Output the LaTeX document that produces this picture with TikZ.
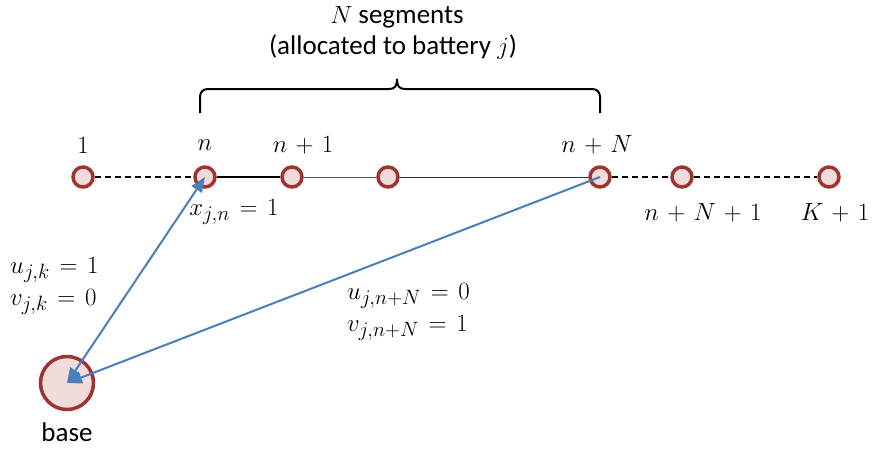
\documentclass[tikz,border=0pt]{standalone}
\usepackage{fontspec}
\setmainfont{Carlito}
\usetikzlibrary{arrows.meta}
\DeclareMathSizes{27}{27}{20}{15}
\medmuskip=6mu\relax
\thickmuskip=7mu\relax
\definecolor{ring}{HTML}{9E3430}
\definecolor{ringfill}{HTML}{F2DCDB}
\definecolor{arrowblue}{HTML}{4A7EBB}
\tikzset{
  pt/.style={circle, draw=ring, fill=ringfill, line width=3.5pt, minimum size=20pt, inner sep=0pt},
  basept/.style={circle, draw=ring, fill=ringfill, line width=3.5pt, minimum size=53pt, inner sep=0pt},
  lbl/.style={inner sep=0pt, font=\fontsize{27}{31}\selectfont},
  dashline/.style={line width=2pt, dash pattern=on 6pt off 4pt},
  conn/.style={draw=arrowblue, line width=2pt},
  bluetip/.tip={Triangle[length=15pt,width=12pt]}
}
\begin{document}
\begin{tikzpicture}[x=1pt,y=-1pt]
\useasboundingbox (0,0) rectangle (884,450);
\node[pt] (p1) at (83,177) {};
\node[pt] (pn) at (205,177) {};
\node[pt] (pn1) at (292,177) {};
\node[pt] (pm) at (388,177) {};
\node[pt] (pnN) at (600,177) {};
\node[pt] (pnN1) at (682,177) {};
\node[pt] (pK) at (829,177) {};
\node[basept] (base) at (67,383) {};
\draw[dashline] (p1) -- (pn);
\draw[line width=2pt] (pn) -- (pn1);
\draw[line width=1pt, gray!70!black] (pn1) -- (pm);
\draw[line width=1pt, black!80] (pm) -- (pnN);
\draw[dashline] (pnN) -- (pnN1);
\draw[dashline] (pnN1) -- (pK);
\draw[conn, {bluetip}-{bluetip}] (base.center) -- (pn.center);
\draw[conn, -{bluetip}] (pnN.center) -- (base.center);
% labels
\node[lbl] (l1) at (83,145) {$1$};
\node[lbl] (ln) at (205,145) {$n$};
\node[lbl] (ln1) at (303,145) {$n+1$};
\node[lbl] (lnN) at (597,145) {$n+N$};
\node[lbl] (lx) at (234,212) {$x_{j,n}=1$};
\node[lbl] (lnN1) at (703,213) {$n+N+1$};
\node[lbl] (lK) at (835,213) {$K+1$};
\node[lbl, anchor=west] (lu1) at (10,270) {$u_{j,k}=1$};
\node[lbl, anchor=west] (lv1) at (10,302) {$v_{j,k}=0$};
\node[lbl, anchor=west] (lu2) at (347,296) {$u_{j,n+N}=0$};
\node[lbl, anchor=west] (lv2) at (347,328) {$v_{j,n+N}=1$};
\node[lbl] (lbase) at (67,432) {base};
\node[lbl] (lseg) at (397,17) {$N$ segments};
\node[lbl] (lalloc) at (393,47) {(allocated to battery $j$)};
% brace
\draw[line width=2pt] (200,113) -- (200,97) .. controls (200,92) and (203,89) .. (208,89)
  -- (389,89) .. controls (395,89) and (397,86) .. (397,79)
  .. controls (397,86) and (399,89) .. (405,89) -- (592,89)
  .. controls (597,89) and (600,92) .. (600,97) -- (600,113);
\end{tikzpicture}
\end{document}
